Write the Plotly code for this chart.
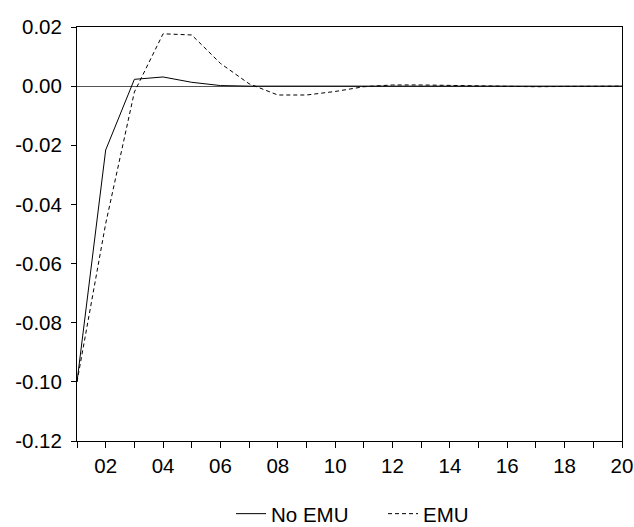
import plotly.graph_objects as go

periods = list(range(1, 21))
no_emu = [-0.100, -0.0216, 0.0023, 0.0031, 0.0013, 0.0002, 0.0000, 0.0000, 0.0000, 0.0000,
          0.0000, 0.0000, 0.0000, 0.0000, 0.0000, 0.0000, 0.0000, 0.0000, 0.0000, 0.0000]
emu = [-0.100, -0.0465, -0.0020, 0.0177, 0.0173, 0.0077, 0.0008, -0.0030, -0.0030, -0.0018,
       -0.0002, 0.0004, 0.0004, 0.0002, 0.0000, -0.0002, -0.0002, -0.0001, 0.0000, 0.0000]
x_tick_labels = ["", "02", "", "04", "", "06", "", "08", "", "10",
                 "", "12", "", "14", "", "16", "", "18", "", "20"]
y_tick_vals = [-0.12, -0.10, -0.08, -0.06, -0.04, -0.02, 0.00, 0.02]
y_tick_labels = ["-0.12", "-0.10", "-0.08", "-0.06", "-0.04", "-0.02", "0.00", "0.02"]

font = "Liberation Sans, Arial, sans-serif"
fs = 20.5

fig = go.Figure()
fig.add_trace(go.Scatter(x=periods, y=no_emu, mode="lines", name="No EMU",
                         line=dict(color="black", width=1)))
fig.add_trace(go.Scatter(x=periods, y=emu, mode="lines", name="EMU",
                         line=dict(color="black", width=1, dash="4px,3px")))

fig.update_layout(
    width=634, height=527,
    margin=dict(l=77, r=12, t=27, b=86, autoexpand=False),
    paper_bgcolor="white", plot_bgcolor="white",
    font=dict(family=font, size=fs, color="black"),
    showlegend=True,
    legend=dict(orientation="h", x=231 / 634, xanchor="left", xref="container",
                y=0.025, yanchor="middle", yref="container",
                entrywidth=107, entrywidthmode="pixels",
                font=dict(family=font, size=fs, color="black"),
                bgcolor="rgba(0,0,0,0)"),
    xaxis=dict(range=[1, 20], tickvals=periods, ticktext=x_tick_labels,
               showgrid=False, zeroline=False, showline=True, linecolor="black",
               linewidth=1, mirror=True, ticks="outside", ticklen=6, tickwidth=1,
               tickcolor="black", tickfont=dict(size=fs), automargin=False),
    yaxis=dict(range=[-0.12, 0.02], tickvals=y_tick_vals, ticktext=y_tick_labels,
               showgrid=False, zeroline=True, zerolinecolor="#555555", zerolinewidth=1,
               showline=True, linecolor="black", linewidth=1, mirror=True,
               ticks="outside", ticklen=5, tickwidth=1, tickcolor="black",
               tickfont=dict(size=fs), ticklabelstandoff=5, automargin=False),
)

fig.write_html("out.html", config={"displayModeBar": False},
               post_script="document.body.style.margin='0';document.body.style.overflow='hidden';")
